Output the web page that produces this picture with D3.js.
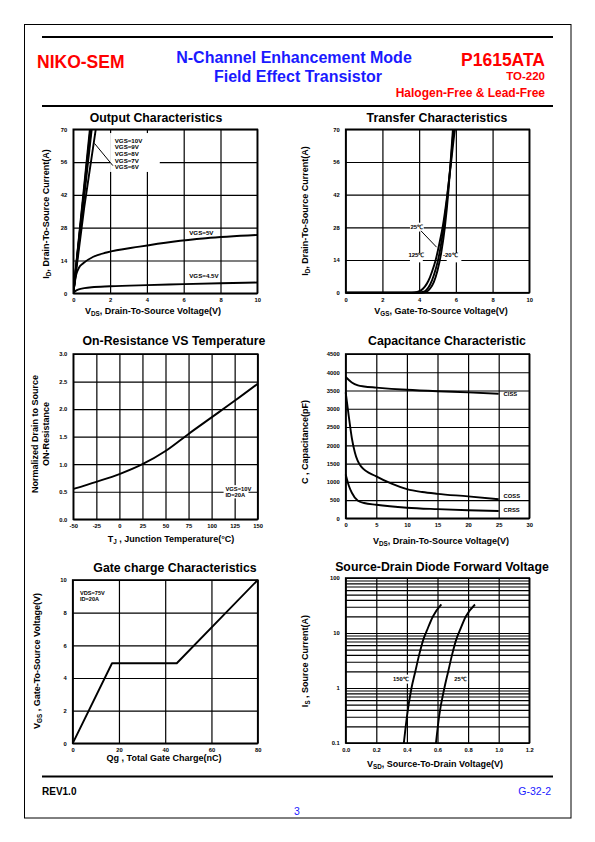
<!DOCTYPE html>
<html><head><meta charset="utf-8">
<script src="https://cdn.jsdelivr.net/npm/d3@7"></script>
<style>
body{margin:0;background:#fff}
svg{display:block;font-family:"Liberation Sans",Arial,Helvetica,sans-serif}
</style></head><body>
<svg id="c" width="595" height="842"></svg>
<script>
// ---------------- DATA ----------------
// Output characteristics (VDS V, ID A)
const outXTicks=[0,2,4,6,8,10];
const outYTicks=[0,14,28,42,56,70];
const outVgs10=[[0,0],[0.9,70]];
const outVgs9=[[0,0],[0.93,70]];
const outVgs8=[[0,0],[0.96,70]];
const outVgs7=[[0,0],[1.0,70]];
const outVgs6=[[0,0],[0.6,37],[1.22,70]];
const outVgs5=[[0,0],[0.06,3.5],[0.16,8],[0.3,10.8],[0.54,12.8],[1.09,15.6],[1.81,17.4],[3.6,19.9],[5.4,22],[7.2,23.5],[10,24.9]];
const outVgs45=[[0,0],[0.1,0.9],[0.3,1.7],[0.6,2.2],[1,2.6],[2,3.0],[4,3.5],[6,3.9],[8,4.3],[10,4.6]];
const outLegend=["VGS=10V","VGS=9V","VGS=8V","VGS=7V","VGS=6V"];

// Transfer characteristics (VGS V, ID A)
const trXTicks=[0,2,4,6,8,10];
const trYTicks=[0,14,28,42,56,70];
const tr125=[[0,0],[3.6,0],[3.9,0.3],[4.1,1],[4.3,2.5],[4.5,5],[4.7,9],[4.9,14],[5.1,21],[5.3,29],[5.5,40],[5.7,53],[5.9,67],[5.95,70]];
const tr25=[[0,0],[3.9,0],[4.2,0.3],[4.4,1.2],[4.6,3.5],[4.8,7.5],[5.0,13],[5.2,21],[5.4,32],[5.6,46],[5.8,63],[5.87,70]];
const trM20=[[0,0],[4.1,0],[4.4,0.4],[4.6,1.8],[4.8,4.5],[5.0,9.5],[5.2,17],[5.4,28],[5.6,44],[5.75,60],[5.84,70]];

// On-resistance vs temperature
const orXTicks=[-50,-25,0,25,50,75,100,125,150];
const orYTicks=[0,0.5,1.0,1.5,2.0,2.5,3.0];
const orYLabels=["0.0","0.5","1.0","1.5","2.0","2.5","3.0"];
const orCurve=[[-50,0.55],[-25,0.68],[0,0.82],[25,1.0],[50,1.24],[75,1.55],[100,1.85],[125,2.15],[150,2.46]];

// Capacitance (VDS V, pF)
const capXTicks=[0,5,10,15,20,25,30];
const capYTicks=[0,500,1000,1500,2000,2500,3000,3500,4000,4500];
const capCiss=[[0,3870],[1,3720],[2,3640],[3,3610],[5,3580],[10,3520],[15,3480],[20,3450],[25,3410]];
const capCoss=[[0,3450],[0.5,2800],[1,2200],[1.5,1800],[2.5,1420],[5,1150],[7.5,950],[10,800],[12.5,720],[15,670],[20,600],[25,520]];
const capCrss=[[0,1200],[0.5,900],[1,700],[2,480],[3,420],[5,370],[10,290],[15,250],[20,220],[25,200]];

// Gate charge (Qg nC, VGS V)
const gcXTicks=[0,20,40,60,80];
const gcYTicks=[0,2,4,6,8,10];
const gcCurve=[[0,0],[17,4.9],[45,4.9],[80,10]];

// Source-drain diode (VSD V, IS A)
const sdXTicks=[0,0.2,0.4,0.6,0.8,1.0,1.2];
const sdXLabels=["0.0","0.2","0.4","0.6","0.8","1.0","1.2"];
const sdYTicks=[0.1,1,10,100];
const sdYLabels=["0.1","1","10","100"];
const sd150=[[0.38,0.1],[0.40,0.3],[0.43,1],[0.455,2],[0.48,4],[0.51,8],[0.53,11],[0.57,20],[0.625,33]];
const sd25=[[0.59,0.1],[0.61,0.3],[0.645,1],[0.67,2],[0.695,4],[0.725,8],[0.745,11],[0.785,20],[0.845,33]];

// ---------------- DRAWING ----------------
const svg=d3.select("#c");
const RED="#ff0000", BLUE="#1a1aff";

function rich(sel,parts,size){
  let shifted=false;
  parts.forEach(p=>{
    if(Array.isArray(p)){
      sel.append("tspan").attr("font-size",size*0.7).attr("dy",size*0.25).text(p[0]);
      shifted=true;
    } else {
      const t=sel.append("tspan").attr("font-size",size).text(p);
      if(shifted){t.attr("dy",-size*0.25);shifted=false;}
    }
  });
  return sel;
}
function txt(x,y,s,opt={}){
  const t=svg.append("text").attr("x",x).attr("y",y)
    .attr("font-size",opt.size||10).attr("font-weight",opt.weight||"bold")
    .attr("fill",opt.fill||"#000").attr("text-anchor",opt.anchor||"start");
  if(opt.rotate) t.attr("transform",`rotate(-90,${x},${y})`);
  if(Array.isArray(s)) rich(t,s,opt.size||10); else t.text(s);
  return t;
}

function panel(p){
  const g=svg.append("g");
  const h=p.b-p.t, w=p.r-p.l;
  const gx=g.append("g").attr("transform",`translate(0,${p.b})`)
    .call(d3.axisBottom(p.x).tickValues(p.xTicks).tickSize(-h).tickFormat(""));
  const gy=g.append("g").attr("transform",`translate(${p.l},0)`)
    .call(d3.axisLeft(p.y).tickValues(p.yGrid||p.yTicks).tickSize(-w).tickFormat(""));
  [gx,gy].forEach(a=>{a.select(".domain").remove();a.selectAll("text").remove();
    a.selectAll("line").attr("stroke","#000").attr("stroke-width",1.2);});
  const lx=g.append("g").attr("transform",`translate(0,${p.b})`)
    .call(d3.axisBottom(p.x).tickValues(p.xTicks).tickSize(0).tickPadding(5)
      .tickFormat((d,i)=>p.xLabels?p.xLabels[i]:d));
  const ly=g.append("g").attr("transform",`translate(${p.l},0)`)
    .call(d3.axisLeft(p.y).tickValues(p.yTicks).tickSize(0).tickPadding(6)
      .tickFormat((d,i)=>p.yLabels?p.yLabels[i]:d));
  [lx,ly].forEach(a=>{a.select(".domain").remove();
    a.attr("font-size",5.8).attr("font-family",null).attr("font-weight","bold");
    a.selectAll("text").attr("fill","#000");});
  g.append("rect").attr("x",p.l).attr("y",p.t).attr("width",w).attr("height",h)
    .attr("fill","none").attr("stroke","#000").attr("stroke-width",1.6);
  return g;
}
function curve(g,data,x,y,type){
  g.append("path").datum(data)
    .attr("d",d3.line().x(d=>x(d[0])).y(d=>y(d[1])).curve(type||d3.curveLinear))
    .attr("fill","none").attr("stroke","#000").attr("stroke-width",1.9).attr("stroke-linejoin","round");
}
function box(x0,y0,x1,y1){
  svg.append("rect").attr("x",x0).attr("y",y0).attr("width",x1-x0).attr("height",y1-y0).attr("fill","#fff");
}

// page frame & header
svg.append("rect").attr("x",24.5).attr("y",24.5).attr("width",546.5).attr("height",793.5)
  .attr("fill","none").attr("stroke","#000").attr("stroke-width",1);
[37,106,776.5].forEach(yy=>svg.append("line").attr("x1",42).attr("x2",553).attr("y1",yy).attr("y2",yy)
  .attr("stroke","#000").attr("stroke-width",2.2));
txt(37,68,"NIKO-SEM",{size:17.5,fill:RED});
txt(294,63,"N-Channel Enhancement Mode",{size:16,fill:BLUE,anchor:"middle"});
txt(298,82,"Field Effect Transistor",{size:16,fill:BLUE,anchor:"middle"});
txt(545,66,"P1615ATA",{size:17.5,fill:RED,anchor:"end"});
txt(545,80,"TO-220",{size:11.5,fill:RED,anchor:"end"});
txt(545,97,"Halogen-Free & Lead-Free",{size:12,fill:RED,anchor:"end"});
txt(42,795,"REV1.0",{size:10});
txt(551,795,"G-32-2",{size:10.5,weight:"normal",fill:BLUE,anchor:"end"});
txt(297,815,"3",{size:10.5,weight:"normal",fill:BLUE,anchor:"middle"});

// ---- Panel 1: Output characteristics
{
  const p={l:73.3,r:257.3,t:129.3,b:293.3,xTicks:outXTicks,yTicks:outYTicks};
  p.x=d3.scaleLinear().domain([0,10]).range([p.l,p.r]);
  p.y=d3.scaleLinear().domain([0,70]).range([p.b,p.t]);
  const g=panel(p);
  svg.append("clipPath").attr("id","c1").append("rect").attr("x",p.l).attr("y",p.t).attr("width",p.r-p.l).attr("height",p.b-p.t);
  const cg=g.append("g").attr("clip-path","url(#c1)");
  [outVgs10,outVgs9,outVgs8,outVgs7,outVgs6].forEach(d=>curve(cg,d,p.x,p.y));
  curve(cg,outVgs5,p.x,p.y,d3.curveMonotoneX);
  curve(cg,outVgs45,p.x,p.y,d3.curveMonotoneX);
  box(p.x(2.0),p.y(68.4),p.x(4.7),p.y(51.8));
  outLegend.forEach((s,i)=>txt(p.x(2.25),p.y(65.1-i*2.83)+2,s,{size:6.2}));
  svg.append("line").attr("x1",p.x(1.15)).attr("y1",p.y(64)).attr("x2",p.x(2.15)).attr("y2",p.y(54.5))
    .attr("stroke","#000").attr("stroke-width",1);
  txt(p.x(6.3),p.y(25.6)+2,"VGS=5V",{size:6.2});
  txt(p.x(6.3),p.y(7.3)+2,"VGS=4.5V",{size:6.2});
  txt(156,122,"Output Characteristics",{size:12.3,anchor:"middle"});
  txt(153,314,["V",["DS"],", Drain-To-Source Voltage(V)"],{size:9,anchor:"middle"});
  txt(49,214,["I",["D"],", Drain-To-Source Current(A)"],{size:9,anchor:"middle",rotate:true});
}

// ---- Panel 2: Transfer characteristics
{
  const p={l:345.7,r:529.3,t:129.3,b:292.7,xTicks:trXTicks,yTicks:trYTicks};
  p.x=d3.scaleLinear().domain([0,10]).range([p.l,p.r]);
  p.y=d3.scaleLinear().domain([0,70]).range([p.b,p.t]);
  const g=panel(p);
  [tr125,tr25,trM20].forEach(d=>curve(g,d,p.x,p.y,d3.curveMonotoneX));
  box(p.x(3.5),p.y(30),p.x(4.25),p.y(26.2));
  txt(p.x(3.87),p.y(28.1)+2,"25℃",{size:6,anchor:"middle"});
  svg.append("line").attr("x1",p.x(4.1)).attr("y1",p.y(26.5)).attr("x2",p.x(4.95)).attr("y2",p.y(19.5))
    .attr("stroke","#000").attr("stroke-width",1);
  box(p.x(3.5),p.y(17),p.x(4.2),p.y(13));
  txt(p.x(3.85),p.y(16.3)+2,"125℃",{size:6,anchor:"middle"});
  box(p.x(5.5),p.y(17),p.x(6.3),p.y(13));
  txt(p.x(5.7),p.y(16.3)+2,"-20℃",{size:6,anchor:"middle"});
  txt(437,122,"Transfer Characteristics",{size:12.3,anchor:"middle"});
  txt(441,314,["V",["GS"],", Gate-To-Source Voltage(V)"],{size:9,anchor:"middle"});
  txt(308,211,["I",["D"],", Drain-To-Source Current(A)"],{size:9,anchor:"middle",rotate:true});
}

// ---- Panel 3: On-resistance
{
  const p={l:73.3,r:257.7,t:354,b:519.3,xTicks:orXTicks,yTicks:orYTicks,yLabels:orYLabels};
  p.x=d3.scaleLinear().domain([-50,150]).range([p.l,p.r]);
  p.y=d3.scaleLinear().domain([0,3]).range([p.b,p.t]);
  const g=panel(p);
  curve(g,orCurve,p.x,p.y,d3.curveMonotoneX);
  box(p.x(113),p.y(0.62),p.x(140),p.y(0.38));
  txt(p.x(115),p.y(0.545)+2,"VGS=10V",{size:5.8});
  txt(p.x(115),p.y(0.44)+2,"ID=20A",{size:5.8});
  txt(174,345,"On-Resistance VS Temperature",{size:12.3,anchor:"middle"});
  txt(171,542,["T",["J"]," , Junction Temperature(°C)"],{size:9,anchor:"middle"});
  txt(38,434,"Normalized Drain to Source",{size:9,anchor:"middle",rotate:true});
  txt(48.5,434,"ON-Resistance",{size:9,anchor:"middle",rotate:true});
}

// ---- Panel 4: Capacitance
{
  const p={l:345.7,r:529.3,t:354,b:518.3,xTicks:capXTicks,yTicks:capYTicks};
  p.x=d3.scaleLinear().domain([0,30]).range([p.l,p.r]);
  p.y=d3.scaleLinear().domain([0,4500]).range([p.b,p.t]);
  const g=panel(p);
  [capCiss,capCoss,capCrss].forEach(d=>curve(g,d,p.x,p.y,d3.curveMonotoneX));
  txt(p.x(25.8),p.y(3400)+2,"CISS",{size:5.8});
  txt(p.x(25.8),p.y(620)+2,"COSS",{size:5.8});
  txt(p.x(25.8),p.y(220)+2,"CRSS",{size:5.8});
  txt(447,345,"Capacitance Characteristic",{size:12.3,anchor:"middle"});
  txt(441,544,["V",["DS"],", Drain-To-Source Voltage(V)"],{size:9,anchor:"middle"});
  txt(308,442,"C , Capacitance(pF)",{size:9,anchor:"middle",rotate:true});
}

// ---- Panel 5: Gate charge
{
  const p={l:72.7,r:257.7,t:580,b:743.3,xTicks:gcXTicks,yTicks:gcYTicks};
  p.x=d3.scaleLinear().domain([0,80]).range([p.l,p.r]);
  p.y=d3.scaleLinear().domain([0,10]).range([p.b,p.t]);
  const g=panel(p);
  curve(g,gcCurve,p.x,p.y);
  txt(80,595,"VDS=75V",{size:5.6});
  txt(80,600.5,"ID=20A",{size:5.6});
  txt(175,572,"Gate charge Characteristics",{size:12.3,anchor:"middle"});
  txt(164,761,"Qg , Total Gate Charge(nC)",{size:9,anchor:"middle"});
  txt(40,661,["V",["GS"]," , Gate-To-Source Voltage(V)"],{size:9,anchor:"middle",rotate:true});
}

// ---- Panel 6: Source-drain diode
{
  const p={l:345.7,r:529.3,t:578,b:743,xTicks:sdXTicks,xLabels:sdXLabels,yTicks:sdYTicks,yLabels:sdYLabels};
  p.x=d3.scaleLinear().domain([0,1.2]).range([p.l,p.r]);
  p.y=d3.scaleLog().domain([0.1,100]).range([p.b,p.t]);
  p.yGrid=p.y.ticks();
  const g=panel(p);
  box(p.x(0.3),p.y(1.75),p.x(0.42),p.y(1.2));
  box(p.x(0.7),p.y(1.75),p.x(0.8),p.y(1.2));
  [sd150,sd25].forEach(d=>curve(g,d,p.x,p.y,d3.curveMonotoneX));
  txt(p.x(0.36),p.y(1.45)+2,"150℃",{size:5.8,anchor:"middle"});
  txt(p.x(0.75),p.y(1.45)+2,"25℃",{size:5.8,anchor:"middle"});
  txt(442,571,"Source-Drain Diode Forward Voltage",{size:12.3,anchor:"middle"});
  txt(435,767,["V",["SD"],", Source-To-Drain Voltage(V)"],{size:9,anchor:"middle"});
  txt(308,661,["I",["S"]," , Source Current(A)"],{size:9,anchor:"middle",rotate:true});
}
</script>
</body></html>
